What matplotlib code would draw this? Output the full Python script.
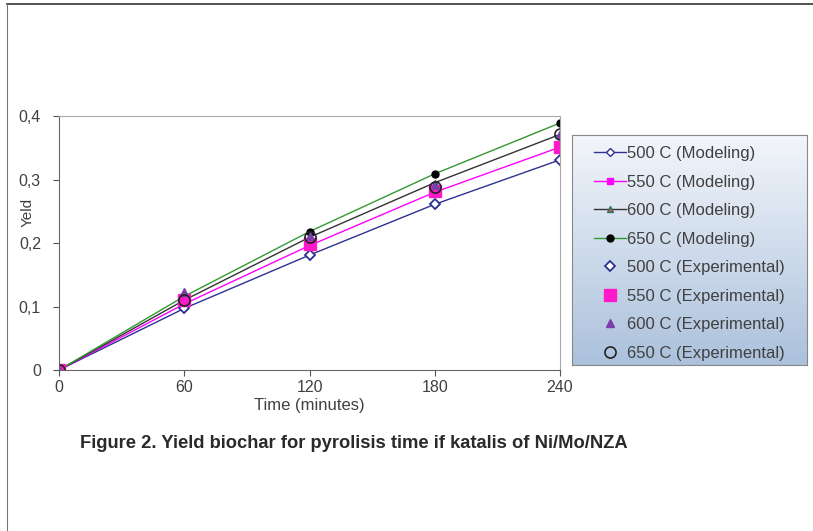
import numpy as np
import matplotlib.pyplot as plt
from matplotlib.lines import Line2D
from matplotlib.colors import LinearSegmentedColormap

plt.rcParams['font.family'] = ['Liberation Sans', 'DejaVu Sans']

# data
time = [0, 60, 120, 180, 240]
model_500 = [0, 0.097, 0.181, 0.261, 0.331]
model_550 = [0, 0.104, 0.196, 0.280, 0.351]
model_600 = [0, 0.110, 0.209, 0.295, 0.371]
model_650 = [0, 0.116, 0.218, 0.309, 0.389]
exp_500 = [0, 0.098, 0.181, 0.261, 0.331]
exp_550 = [0, 0.111, 0.198, 0.282, 0.352]
exp_600 = [0, 0.123, 0.211, 0.292, 0.371]
exp_650 = [0, 0.111, 0.209, 0.288, 0.371]
labels = ["500 C (Modeling)", "550 C (Modeling)", "600 C (Modeling)",
          "650 C (Modeling)", "500 C (Experimental)", "550 C (Experimental)",
          "600 C (Experimental)", "650 C (Experimental)"]

fig = plt.figure(figsize=(8.13, 5.31), dpi=100)
ax = fig.add_axes([0.0726, 0.3032, 0.6162, 0.4783])

h = []
h += ax.plot(time, model_500, color='#2e3192', lw=1, marker='D', ms=4,
             mfc='white', mec='#2e3192', mew=1)
h += ax.plot(time, model_550, color='#ff00ff', lw=1, marker='s', ms=4,
             mfc='#ff00ff', mec='#ff00ff')
h += ax.plot(time, model_600, color='#333333', lw=1, marker='^', ms=4,
             mfc='#c06030', mec='#2f6f6f')
h += ax.plot(time, model_650, color='#339933', lw=1, marker='o', ms=5,
             mfc='black', mec='black')
h += ax.plot(time, exp_500, ls='none', marker='D', ms=5, mfc='white',
             mec='#2e3192', mew=1.3)
h += ax.plot(time, exp_550, ls='none', marker='s', ms=8, mfc='#ff19c8',
             mec='#ff19c8')
h += ax.plot(time, exp_600, ls='none', marker='^', ms=6, mfc='#7a3fa8',
             mec='#7a3fa8')
h += ax.plot(time, exp_650, ls='none', marker='o', ms=8, mfc='none',
             mec='#222222', mew=1.2)

ax.set_xlim(0, 240)
ax.set_ylim(0, 0.4)
ax.set_xticks([0, 60, 120, 180, 240])
ax.set_yticks([0, 0.1, 0.2, 0.3, 0.4])
ax.set_yticklabels(['0', '0,1', '0,2', '0,3', '0,4'])
ax.tick_params(colors='#555555', labelcolor='#404040', labelsize=11.5,
               direction='out', length=4)
ax.tick_params(axis='y', pad=9)
ax.spines['left'].set_color('#666666')
ax.spines['bottom'].set_color('#666666')
ax.spines['top'].set_color('#aaaaaa')
ax.spines['right'].set_color('#aaaaaa')
ax.set_xlabel('Time (minutes)', color='#404040', fontsize=12, labelpad=2)
ax.set_ylabel('Yeld', color='#404040', fontsize=11)
ax.yaxis.set_label_coords(-0.048, 0.622)

# legend box with blue gradient
lax = fig.add_axes([0.7036, 0.3126, 0.289, 0.4331])
grad = np.linspace(0, 1, 256).reshape(-1, 1)
lax.imshow(grad, aspect='auto', extent=[0, 1, 0, 1],
           cmap=LinearSegmentedColormap.from_list('g', ['#f3f6fb', '#abc1dc']))
lax.set_xticks([])
lax.set_yticks([])
for s in lax.spines.values():
    s.set_color('#888888')
leg = lax.legend(h, labels, loc='center', bbox_to_anchor=(0.5, 0.485),
                 frameon=False, fontsize=12, handlelength=1.9,
                 labelspacing=0.81, handletextpad=0.1, labelcolor='#404040')

fig.text(0.098, 0.165, 'Figure 2. Yield biochar for pyrolisis time if katalis of Ni/Mo/NZA',
         fontsize=13.2, fontweight='bold', color='#2a2a2a', va='center')

# page frame
fig.add_artist(Line2D([0.0086, 1.0], [0.993, 0.993], color='#333333', lw=1.2))
fig.add_artist(Line2D([0.0086, 0.0086], [0.0, 0.993], color='#777777', lw=0.8))

fig.savefig('out.png', dpi=100)
